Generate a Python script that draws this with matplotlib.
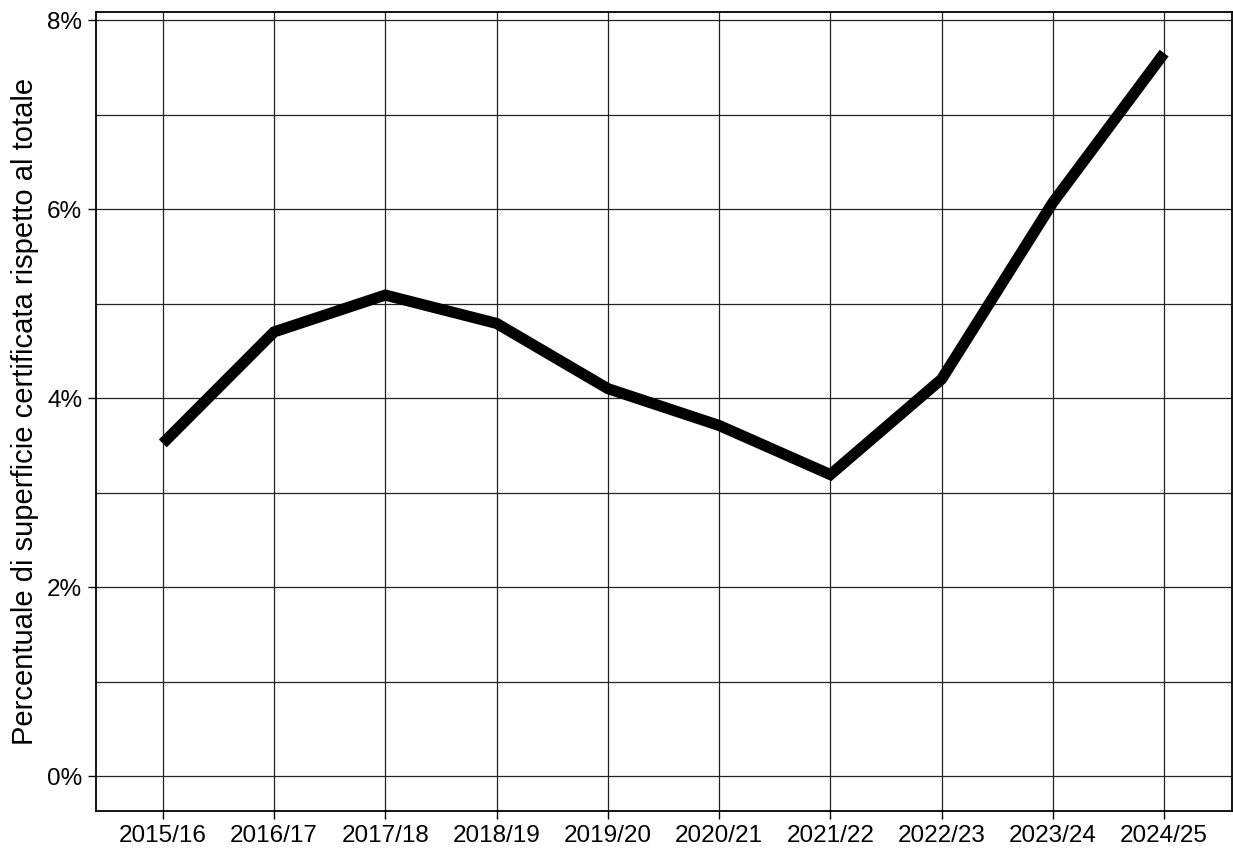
import matplotlib
matplotlib.use("Agg")
import matplotlib.pyplot as plt
from matplotlib.ticker import FuncFormatter, MultipleLocator

plt.rcParams['font.family'] = ['Liberation Sans', 'DejaVu Sans']

# Stagioni e percentuale di superficie certificata
seasons = ['2015/16', '2016/17', '2017/18', '2018/19', '2019/20',
           '2020/21', '2021/22', '2022/23', '2023/24', '2024/25']
share = [3.52, 4.70, 5.09, 4.79, 4.10, 3.71, 3.19, 4.20, 6.07, 7.65]

fig = plt.figure(figsize=(12.33, 8.48), dpi=100)
ax = fig.add_axes([0.0779, 0.0436, 0.9213, 0.9422])

x = list(range(len(seasons)))
ax.plot(x, share, color='black', linewidth=8, solid_capstyle='butt',
        solid_joinstyle='miter', zorder=3)

ax.set_xlim(-0.6, len(seasons) - 1 + 0.61)
ax.set_ylim(-0.37, 8.085)
ax.set_xticks(x)
ax.set_xticklabels(seasons)
ax.yaxis.set_major_locator(MultipleLocator(2))
ax.yaxis.set_minor_locator(MultipleLocator(1))
ax.yaxis.set_major_formatter(FuncFormatter(lambda v, p: f'{v:.0f}%'))

ax.grid(True, which='major', color='#222222', linewidth=0.9)
ax.grid(True, which='minor', axis='y', color='#222222', linewidth=0.9)
ax.tick_params(axis='both', which='major', length=6, width=1, labelsize=17.5, pad=4)
ax.tick_params(axis='y', which='minor', length=0)

for s in ax.spines.values():
    s.set_linewidth(1.3)

ax.set_ylabel('Percentuale di superficie certificata rispetto al totale', fontsize=21, labelpad=6)

fig.savefig('out.png', dpi=100)
